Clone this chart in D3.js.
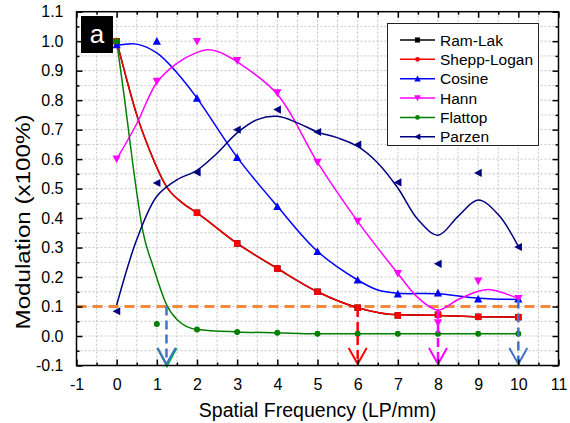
<!DOCTYPE html>
<html><head><meta charset="utf-8">
<script src="https://cdn.jsdelivr.net/npm/d3@7"></script>
<style>
html,body{margin:0;padding:0;background:#fff;}
svg{display:block;font-family:"Liberation Sans",Arial,sans-serif;}
</style></head>
<body><svg id="c" width="570" height="423"></svg>
<script>
// ---- data ----
const freq = [0,1,2,3,4,5,6,7,8,9,10];
const ramLak      = [1.0, null, 0.418, 0.314, 0.229, 0.150, 0.096, 0.070, 0.072, 0.065, 0.064];
const sheppLogan  = [1.0, null, 0.418, 0.314, 0.229, 0.150, 0.096, 0.070, 0.072, 0.065, 0.064];
const cosine      = [0.988, 1.0, 0.807, 0.606, 0.440, 0.287, 0.190, 0.143, 0.146, 0.126, 0.126];
const hann        = [0.600, 0.864, 0.999, 0.934, 0.825, 0.589, 0.389, 0.212, 0.045, 0.186, 0.127];
const flattop     = [1.0, 0.041, 0.022, 0.014, 0.011, 0.008, 0.008, 0.008, 0.008, 0.008, 0.008];
const parzen      = [0.084, 0.519, 0.555, 0.700, 0.768, 0.692, 0.649, 0.521, 0.245, 0.553, 0.302];

// fitted curves
const ramFitX   = [0,0.25,0.5,0.82,1.24,1.65,2,3,4,5,6,7,8,9,10];
const ramFitY   = [1.0,0.87,0.75,0.63,0.507,0.45,0.418,0.314,0.229,0.150,0.096,0.072,0.070,0.065,0.064];
const cosFitX   = [0,0.5,1,1.5,2,3,4,5,6,6.5,7,8,9,10];
const cosFitY   = [0.985,0.99,0.96,0.893,0.807,0.606,0.440,0.287,0.190,0.156,0.145,0.143,0.128,0.124];
const hannFitX  = [0,0.5,1,1.5,2,2.25,2.5,3,4,5,6,7,7.5,8,8.5,9,9.25,9.5,10];
const hannFitY  = [0.60,0.72,0.86,0.925,0.962,0.971,0.966,0.93,0.82,0.589,0.389,0.212,0.13,0.088,0.124,0.152,0.158,0.152,0.127];
const flatFitX  = [0,0.2,0.41,0.66,0.91,1.24,1.5,2,3,4,5,6,7,8,9,10];
const flatFitY  = [1.0,0.80,0.575,0.35,0.235,0.107,0.056,0.022,0.014,0.011,0.008,0.008,0.008,0.008,0.008,0.008];
const parFitX   = [0,0.5,1,1.5,2,2.5,3,3.5,4,4.5,5,5.5,6,6.5,7,7.5,8,8.5,9,9.5,10];
const parFitY   = [0.105,0.327,0.474,0.53,0.562,0.62,0.689,0.734,0.745,0.723,0.692,0.672,0.643,0.587,0.502,0.395,0.342,0.406,0.461,0.412,0.304];

const seriesNames  = ["Ram-Lak","Shepp-Logan","Cosine","Hann","Flattop","Parzen"];
const xTicks = [-1,0,1,2,3,4,5,6,7,8,9,10,11];
const yTicks = [-0.1,0.0,0.1,0.2,0.3,0.4,0.5,0.6,0.7,0.8,0.9,1.0,1.1];
const threshold = 0.1;
const cutoffX = [1.24, 6, 8, 10];
const cutoffTop = [0.1, 0.095, 0.088, 0.124];
const labelText = "a";

// ---- layout ----
const svg = d3.select("#c");
const L=76.5, R=558.5, T=11.7, B=365.5;
const x = d3.scaleLinear().domain([-1,11]).range([L,R]);
const y = d3.scaleLinear().domain([-0.1,1.1]).range([B,T]);

// grid
const gx = d3.range(-0.5, 11, 0.5);
const gy = d3.range(-0.05, 1.1, 0.05).map(v=>+v.toFixed(2));
const grid = svg.append("g").attr("stroke","#c4c4c4").attr("stroke-width",1).attr("stroke-dasharray","2,2");
grid.selectAll("line.v").data(gx).join("line").attr("x1",d=>x(d)).attr("x2",d=>x(d)).attr("y1",T).attr("y2",B);
grid.selectAll("line.h").data(gy).join("line").attr("y1",d=>y(d)).attr("y2",d=>y(d)).attr("x1",L).attr("x2",R);

// threshold line
svg.append("line").attr("x1",L).attr("x2",R).attr("y1",y(threshold)).attr("y2",y(threshold))
  .attr("stroke","#f08a3e").attr("stroke-width",3).attr("stroke-dasharray","10,6");

// curves
const colors = {"Ram-Lak":"#000000","Shepp-Logan":"#ff0000","Cosine":"#0000ff","Hann":"#ff00ff","Flattop":"#008000","Parzen":"#000080"};
function fit(xs, ys, color, curve){
  svg.append("path").datum(xs.map((v,i)=>[v,ys[i]]))
    .attr("fill","none").attr("stroke",color).attr("stroke-width",1.5)
    .attr("d", d3.line().x(d=>x(d[0])).y(d=>y(d[1])).curve(curve));
}
fit(ramFitX, ramFitY, colors["Ram-Lak"], d3.curveMonotoneX);
fit(ramFitX, ramFitY, colors["Shepp-Logan"], d3.curveMonotoneX);
fit(cosFitX, cosFitY, colors["Cosine"], d3.curveCatmullRom.alpha(0.5));
fit(hannFitX, hannFitY, colors["Hann"], d3.curveCatmullRom.alpha(0.5));
fit(flatFitX, flatFitY, colors["Flattop"], d3.curveMonotoneX);
fit(parFitX, parFitY, colors["Parzen"], d3.curveCatmullRom.alpha(0.5));

// markers
function marker(g, kind, color){
  const s = 3.6;
  if(kind==="square") g.append("rect").attr("x",-s+0.4).attr("y",-s+0.4).attr("width",2*s-0.8).attr("height",2*s-0.8).attr("fill",color);
  else if(kind==="dot") g.append("circle").attr("r",3).attr("fill",color);
  else if(kind==="up") g.append("path").attr("d",`M0,${-s-0.5}L${s+0.5},${s}L${-s-0.5},${s}Z`).attr("fill",color);
  else if(kind==="down") g.append("path").attr("d",`M0,${s+0.5}L${s+0.5},${-s}L${-s-0.5},${-s}Z`).attr("fill",color);
  else if(kind==="left") g.append("path").attr("d",`M${-s-0.5},0L${s},${-s-0.5}L${s},${s+0.5}Z`).attr("fill",color);
}
const kinds = {"Ram-Lak":"square","Shepp-Logan":"square","Cosine":"up","Hann":"down","Flattop":"dot","Parzen":"left"};
const legendKinds = {"Ram-Lak":"square","Shepp-Logan":"dot","Cosine":"up","Hann":"down","Flattop":"dot","Parzen":"left"};
const seriesVals = {"Ram-Lak":ramLak,"Shepp-Logan":sheppLogan,"Cosine":cosine,"Hann":hann,"Flattop":flattop,"Parzen":parzen};
seriesNames.forEach(n=>{
  freq.forEach((f,i)=>{
    const v = seriesVals[n][i];
    if(v===null) return;
    const g = svg.append("g").attr("transform",`translate(${x(f)},${y(v)})`);
    marker(g, kinds[n], colors[n]);
  });
});

// cutoff arrows
const arrowCol = ["#4472c4","#ff0000","#ff00ff","#4472c4"];
const tipY = 364;
cutoffX.forEach((cx,i)=>{
  const px = x(cx);
  svg.append("line").attr("x1",px).attr("x2",px).attr("y1",y(cutoffTop[i])).attr("y2",tipY-2)
    .attr("stroke",arrowCol[i]).attr("stroke-width",2.5).attr("stroke-dasharray","9,5");
  if(i===0){
    svg.append("path").attr("d",`M${px-9},${tipY-16}L${px+0.5},${tipY+2}L${px+10},${tipY-16}`)
      .attr("fill","none").attr("stroke","#00b050").attr("stroke-width",2.2);
  }
  svg.append("path").attr("d",`M${px-9},${tipY-16}L${px},${tipY}L${px+9},${tipY-16}`)
    .attr("fill","none").attr("stroke",arrowCol[i]).attr("stroke-width",2);
});

// axes frame
svg.append("rect").attr("x",L).attr("y",T).attr("width",R-L).attr("height",B-T)
  .attr("fill","none").attr("stroke","#000").attr("stroke-width",1.5);

const xMinor = d3.range(-0.5, 11, 1);
const yMinor = d3.range(-0.05, 1.1, 0.1).map(v=>+v.toFixed(2));
function axisG(axis, tr){ const g = svg.append("g").attr("transform",tr).call(axis); g.select(".domain").remove(); g.selectAll("line").attr("stroke","#000").attr("stroke-width",1.5); return g;}
const fs = "16px";
const bx = axisG(d3.axisBottom(x).tickValues(xTicks).tickSize(-6).tickPadding(13).tickFormat(d=>String(d)), `translate(0,${B})`);
bx.selectAll("text").attr("font-size",fs).attr("fill","#000").attr("font-family","Liberation Sans, Arial, sans-serif");
axisG(d3.axisBottom(x).tickValues(xMinor).tickSize(-3).tickFormat(""), `translate(0,${B})`);
axisG(d3.axisTop(x).tickValues(xTicks).tickSize(-6).tickFormat(""), `translate(0,${T})`);
axisG(d3.axisTop(x).tickValues(xMinor).tickSize(-3).tickFormat(""), `translate(0,${T})`);
const ly = axisG(d3.axisLeft(y).tickValues(yTicks).tickSize(-6).tickPadding(13).tickFormat(d=>d.toFixed(1)), `translate(${L},0)`);
ly.selectAll("text").attr("font-size",fs).attr("fill","#000").attr("font-family","Liberation Sans, Arial, sans-serif");
axisG(d3.axisLeft(y).tickValues(yMinor).tickSize(-3).tickFormat(""), `translate(${L},0)`);
axisG(d3.axisRight(y).tickValues(yTicks).tickSize(-6).tickFormat(""), `translate(${R},0)`);
axisG(d3.axisRight(y).tickValues(yMinor).tickSize(-3).tickFormat(""), `translate(${R},0)`);

// titles
svg.append("text").attr("x",(L+R)/2).attr("y",417).attr("text-anchor","middle")
  .attr("font-size","19.5px").attr("fill","#000").text("Spatial Frequency (LP/mm)");
svg.append("text").attr("transform","translate(30,222) rotate(-90)").attr("text-anchor","middle")
  .attr("font-size","21px").attr("fill","#000").attr("textLength",215).attr("lengthAdjust","spacingAndGlyphs")
  .text("Modulation (x100%)");

// panel label
svg.append("rect").attr("x",81).attr("y",16).attr("width",32).attr("height",37).attr("fill","#000");
svg.append("text").attr("x",97).attr("y",43).attr("text-anchor","middle").attr("font-size","26px").attr("fill","#fff").text(labelText);

// legend
const lg = svg.append("g");
lg.append("rect").attr("x",387.5).attr("y",23.5).attr("width",151).attr("height",122).attr("fill","#fff").attr("stroke","#222").attr("stroke-width",1);
seriesNames.forEach((n,i)=>{
  const yy = 40 + i*19.35;
  lg.append("line").attr("x1",400).attr("x2",435).attr("y1",yy).attr("y2",yy).attr("stroke",colors[n]).attr("stroke-width",1.5);
  const g = lg.append("g").attr("transform",`translate(417.5,${yy})`);
  marker(g, legendKinds[n], colors[n]);
  g.selectAll("*").attr("transform","scale(0.8)");
  lg.append("text").attr("x",440).attr("y",yy+5.5).attr("font-size","15.5px").attr("fill","#000").text(n);
});
</script></body></html>
